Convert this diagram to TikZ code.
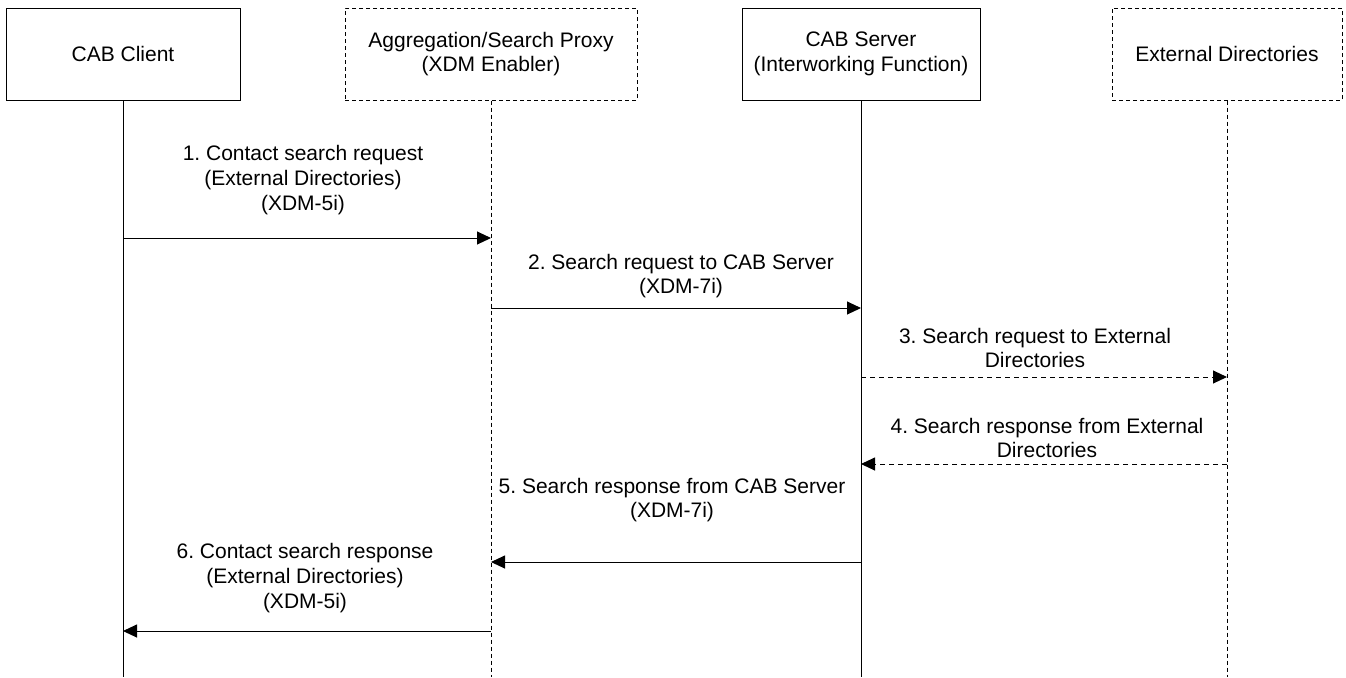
\documentclass[tikz,border=0pt]{standalone}
\usepackage{fontspec}
\setmainfont{Liberation Sans}
\usetikzlibrary{arrows.meta}
\frenchspacing
\begin{document}
\begin{tikzpicture}[x=0.5pt, y=-0.5pt, font=\fontsize{10.5}{12.3}\selectfont]

      \tikzset{entity/.style={draw, line width=0.5pt, minimum height=46pt, inner sep=2pt, align=center},
               proxied/.style={entity, dash pattern=on 2pt off 1.5pt},
               life/.style={line width=0.5pt},
               lifedash/.style={life, dash pattern=on 2pt off 1.5pt},
               msg/.style={line width=0.5pt, -{Triangle[length=7pt, width=6.5pt]}},
               msgdash/.style={msg, dash pattern=on 2.5pt off 2pt},
               note/.style={align=center, inner sep=0pt}}
      \useasboundingbox (0,0) rectangle (1346,677);
%% Entities
      \node[entity, minimum width=117pt] (client) at (123,54) {CAB Client};
      \node[proxied, minimum width=146pt] (proxy) at (491,54) {Aggregation/Search Proxy\\(XDM Enabler)};
      \node[entity, minimum width=119pt] (server) at (861,54) {CAB Server\\(Interworking Function)};
      \node[proxied, minimum width=115pt] (extdir) at (1227,54) {External Directories};
%% Lifelines
      \coordinate (clientend) at (123,677);
      \coordinate (proxyend) at (491,677);
      \coordinate (serverend) at (861,677);
      \coordinate (extdirend) at (1227,677);
      \draw[life] (client) -- (clientend);
      \draw[lifedash] (proxy) -- (proxyend);
      \draw[life] (server) -- (serverend);
      \draw[lifedash] (extdir) -- (extdirend);
%Messages
      \draw[msg] (client |- 0,238) -- (proxy |- 0,238);
      \draw[msg] (proxy |- 0,308) -- (server |- 0,308);
      \draw[msgdash] (server |- 0,377) -- (extdir |- 0,377);
      \draw[msgdash] (extdir |- 0,464) -- (server |- 0,464);
      \draw[msg] (server |- 0,562) -- (proxy |- 0,562);
      \draw[msg] (proxy |- 0,631) -- (client |- 0,631);
%Labels
      \node[note] (l1) at (303,180) {1. Contact search request\\(External Directories)\\(XDM-5i)};
      \node[note] (l2) at (681,276) {2. Search request to CAB Server\\(XDM-7i)};
      \node[note] (l3) at (1035,348) {3. Search request to External\\Directories};
      \node[note] (l4) at (1047,438) {4. Search response from External\\Directories};
      \node[note] (l5) at (672,500) {5. Search response from CAB Server\\(XDM-7i)};
      \node[note] (l6) at (305,578) {6. Contact search response\\(External Directories)\\(XDM-5i)};

\end{tikzpicture}
\end{document}
